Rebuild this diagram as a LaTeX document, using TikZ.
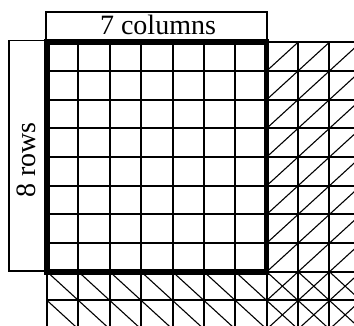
\documentclass[tikz,border=0pt]{standalone}
\usepackage{fontspec}
\setmainfont{Liberation Serif}
\begin{document}
\begin{tikzpicture}[x=1pt,y=1pt,
  gridline/.style={line width=2pt,black},
  diagline/.style={line width=1.1pt,black},
  frameline/.style={line width=5.5pt,black,line join=miter},
  boxline/.style={line width=1.8pt,black},
  lbl/.style={font=\fontsize{28}{30}\selectfont,inner sep=0pt,anchor=base}]
\useasboundingbox (0,0) rectangle (354,326);
\def\xa{47.1}\def\dx{31.375}
\def\ya{283.8}\def\dy{28.7}
\begin{scope}
\clip (0,0) rectangle (354,326);
% diagonals
\foreach \i in {0,...,9}{
  \foreach \k in {0,...,9}{
    \pgfmathsetmacro{\xl}{\xa+\dx*\i}
    \pgfmathsetmacro{\xr}{\xa+\dx*(\i+1)}
    \pgfmathsetmacro{\yt}{\ya-\dy*\k}
    \pgfmathsetmacro{\yb}{\ya-\dy*(\k+1)}
    \ifnum\i>6
      \draw[diagline] (\xl,\yb) -- (\xr,\yt);
    \fi
    \ifnum\k>7
      \draw[diagline] (\xl,\yt) -- (\xr,\yb);
    \fi
  }
}
% grid lines
\foreach \i in {0,...,10}{
  \pgfmathsetmacro{\xx}{\xa+\dx*\i}
  \draw[gridline] (\xx,\ya) -- (\xx,\ya-\dy*10);
}
\foreach \k in {0,...,10}{
  \pgfmathsetmacro{\yy}{\ya-\dy*\k}
  \draw[gridline] (\xa,\yy) -- (\xa+\dx*10,\yy);
}
\end{scope}
% label boxes
\draw[boxline] (45.7,314) rectangle (266.9,283);
\draw[boxline] (9,285.5) rectangle (47,55);
% thick frame
\draw[frameline] (\xa,\ya) rectangle (\xa+\dx*7,\ya-\dy*8);
% labels
\node[lbl] (cols) at (158,291) {7 columns};
\node[lbl,rotate=90] (rows) at (35.7,166) {8 rows};
\end{tikzpicture}
\end{document}
